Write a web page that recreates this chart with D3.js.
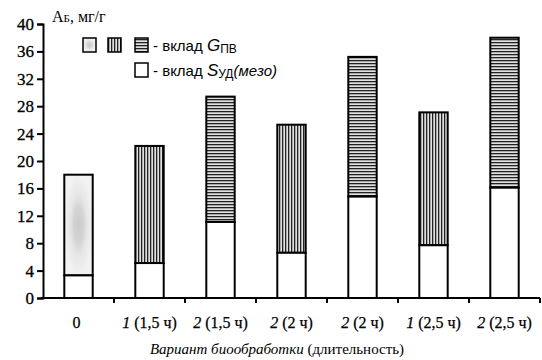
<!DOCTYPE html>
<html lang="ru">
<head>
<meta charset="UTF-8">
<title>Вклад в адсорбцию</title>
<script src="https://d3js.org/d3.v7.min.js"></script>
<style>
  body { margin: 0; background: #fff; }
  svg { display: block; }
</style>
</head>
<body>
<div id="chart"></div>
<script>
  // данные
  const variants = ["0", "1", "2", "2", "2", "1", "2"];
  const durations = ["", "(1,5 ч)", "(1,5 ч)", "(2 ч)", "(2 ч)", "(2,5 ч)", "(2,5 ч)"];
  const totals = [18.0, 22.2, 29.4, 25.3, 35.2, 27.1, 38.0];
  const mesoPart = [3.3, 5.1, 11.1, 6.6, 14.8, 7.7, 16.1];
  const fillKind = ["dots", "vert", "horiz", "vert", "horiz", "vert", "horiz"];
  const yTicks = [0, 4, 8, 12, 16, 20, 24, 28, 32, 36, 40];

  const width = 542, height = 360;
  const plotLeft = 43, plotRight = 540, plotTop = 24, plotBottom = 298;

  const svg = d3.select("#chart").append("svg")
    .attr("width", width).attr("height", height);

  // заливки
  const defs = svg.append("defs");
  const pv = defs.append("pattern").attr("id", "vert")
    .attr("patternUnits", "userSpaceOnUse").attr("width", 3).attr("height", 3);
  pv.append("rect").attr("width", 3).attr("height", 3).attr("fill", "#a8a8a8");
  pv.append("rect").attr("width", 1).attr("height", 3).attr("fill", "#222");
  pv.append("rect").attr("x", 2).attr("width", 0.8).attr("height", 3).attr("fill", "#eee");

  const ph = defs.append("pattern").attr("id", "horiz")
    .attr("patternUnits", "userSpaceOnUse").attr("width", 3).attr("height", 3);
  ph.append("rect").attr("width", 3).attr("height", 3).attr("fill", "#a8a8a8");
  ph.append("rect").attr("width", 3).attr("height", 1).attr("fill", "#222");
  ph.append("rect").attr("y", 2).attr("width", 3).attr("height", 0.8).attr("fill", "#eee");

  const rg = defs.append("radialGradient").attr("id", "dots")
    .attr("cx", 0.5).attr("cy", 0.5).attr("r", 0.5);
  rg.append("stop").attr("offset", "0%").attr("stop-color", "#cacaca");
  rg.append("stop").attr("offset", "35%").attr("stop-color", "#d4d4d4");
  rg.append("stop").attr("offset", "60%").attr("stop-color", "#e6e6e6");
  rg.append("stop").attr("offset", "100%").attr("stop-color", "#f2f2f2");

  const x = d3.scaleBand().domain(d3.range(totals.length)).range([plotLeft, plotRight]).paddingInner(0.6).paddingOuter(0.3);
  const xb = d3.scaleBand().domain(d3.range(totals.length)).range([plotLeft, plotRight]);
  const y = d3.scaleLinear().domain([0, 40]).range([plotBottom, plotTop]);

  // столбцы
  const bars = svg.append("g").selectAll("g").data(totals).join("g");
  bars.append("rect")
    .attr("x", (d, i) => x(i)).attr("width", x.bandwidth())
    .attr("y", (d, i) => y(d)).attr("height", (d, i) => y(mesoPart[i]) - y(d))
    .attr("fill", (d, i) => `url(#${fillKind[i]})`)
    .attr("stroke", "#000").attr("stroke-width", 2);
  bars.append("rect")
    .attr("x", (d, i) => x(i)).attr("width", x.bandwidth())
    .attr("y", (d, i) => y(mesoPart[i])).attr("height", (d, i) => y(0) - y(mesoPart[i]))
    .attr("fill", "#fff")
    .attr("stroke", "#000").attr("stroke-width", 2);

  // оси
  const yAxis = svg.append("g").attr("transform", `translate(${plotLeft},0)`)
    .call(d3.axisLeft(y).tickValues(yTicks).tickSize(6).tickPadding(3));
  yAxis.select(".domain").attr("stroke-width", 2);
  yAxis.selectAll(".tick line").attr("stroke-width", 2);
  yAxis.selectAll("text").attr("font-family", "Liberation Serif").attr("font-size", 17)
    .attr("fill", "#000").attr("stroke", "#000").attr("stroke-width", 0.3);

  const xAxis = svg.append("g").attr("transform", `translate(0,${plotBottom})`)
    .call(d3.axisBottom(xb).tickValues([]).tickSizeOuter(0));
  xAxis.select(".domain").attr("stroke-width", 2).attr("d", `M${plotLeft - 2},0H${plotRight}`);
  xAxis.selectAll("line.b").data(d3.range(totals.length)).join("line").attr("class", "b")
    .attr("x1", i => xb(i) + xb.bandwidth()).attr("x2", i => xb(i) + xb.bandwidth())
    .attr("y1", 0).attr("y2", 5).attr("stroke", "#000").attr("stroke-width", 2);

  const lab = svg.append("g").selectAll("text").data(variants).join("text")
    .attr("x", (d, i) => xb(i) + xb.bandwidth() / 2 + (i === 0 ? -2 : 0))
    .attr("y", 328).attr("text-anchor", "middle")
    .attr("font-family", "Liberation Serif").attr("font-size", 16).attr("fill", "#000")
    .attr("stroke", "#000").attr("stroke-width", 0.25);
  lab.append("tspan").attr("font-style", (d, i) => i === 0 ? "normal" : "italic").text(d => d);
  lab.append("tspan").text((d, i) => durations[i] ? " " + durations[i] : "");

  // подписи
  const yl = svg.append("text").attr("x", 52).attr("y", 22)
    .attr("font-family", "Liberation Serif").attr("font-size", 16);
  yl.append("tspan").text("А");
  yl.append("tspan").attr("font-size", 11).text("Б");
  yl.append("tspan").text(", мг/г");

  const xt = svg.append("text").attr("x", 277).attr("y", 354).attr("text-anchor", "middle")
    .attr("font-family", "Liberation Serif").attr("font-size", 15);
  xt.append("tspan").attr("font-style", "italic").text("Вариант биообработки");
  xt.append("tspan").text("  (длительность)");

  // легенда
  const leg = svg.append("g");
  ["dots", "vert", "horiz"].forEach((k, i) => {
    leg.append("rect").attr("x", [83, 108, 135][i]).attr("y", 38).attr("width", 13).attr("height", 14)
      .attr("fill", `url(#${k})`).attr("stroke", "#000").attr("stroke-width", 1.5);
  });
  leg.append("rect").attr("x", 135).attr("y", 63).attr("width", 13).attr("height", 14)
    .attr("fill", "#fff").attr("stroke", "#000").attr("stroke-width", 1.5);

  const t1 = leg.append("text").attr("x", 153).attr("y", 51)
    .attr("font-family", "Liberation Sans").attr("font-size", 15);
  t1.append("tspan").text("- вклад ");
  t1.append("tspan").attr("font-style", "italic").attr("font-size", 17).text("G");
  t1.append("tspan").attr("font-size", 12).attr("dy", 2).text("ПВ");

  const t2 = leg.append("text").attr("x", 153).attr("y", 76)
    .attr("font-family", "Liberation Sans").attr("font-size", 15);
  t2.append("tspan").text("- вклад ");
  t2.append("tspan").attr("font-style", "italic").attr("font-size", 17).text("S");
  t2.append("tspan").attr("font-size", 12).attr("dy", 2).text("УД");
  t2.append("tspan").attr("font-style", "italic").attr("dy", -2).text("(мезо)");
</script>
</body>
</html>
